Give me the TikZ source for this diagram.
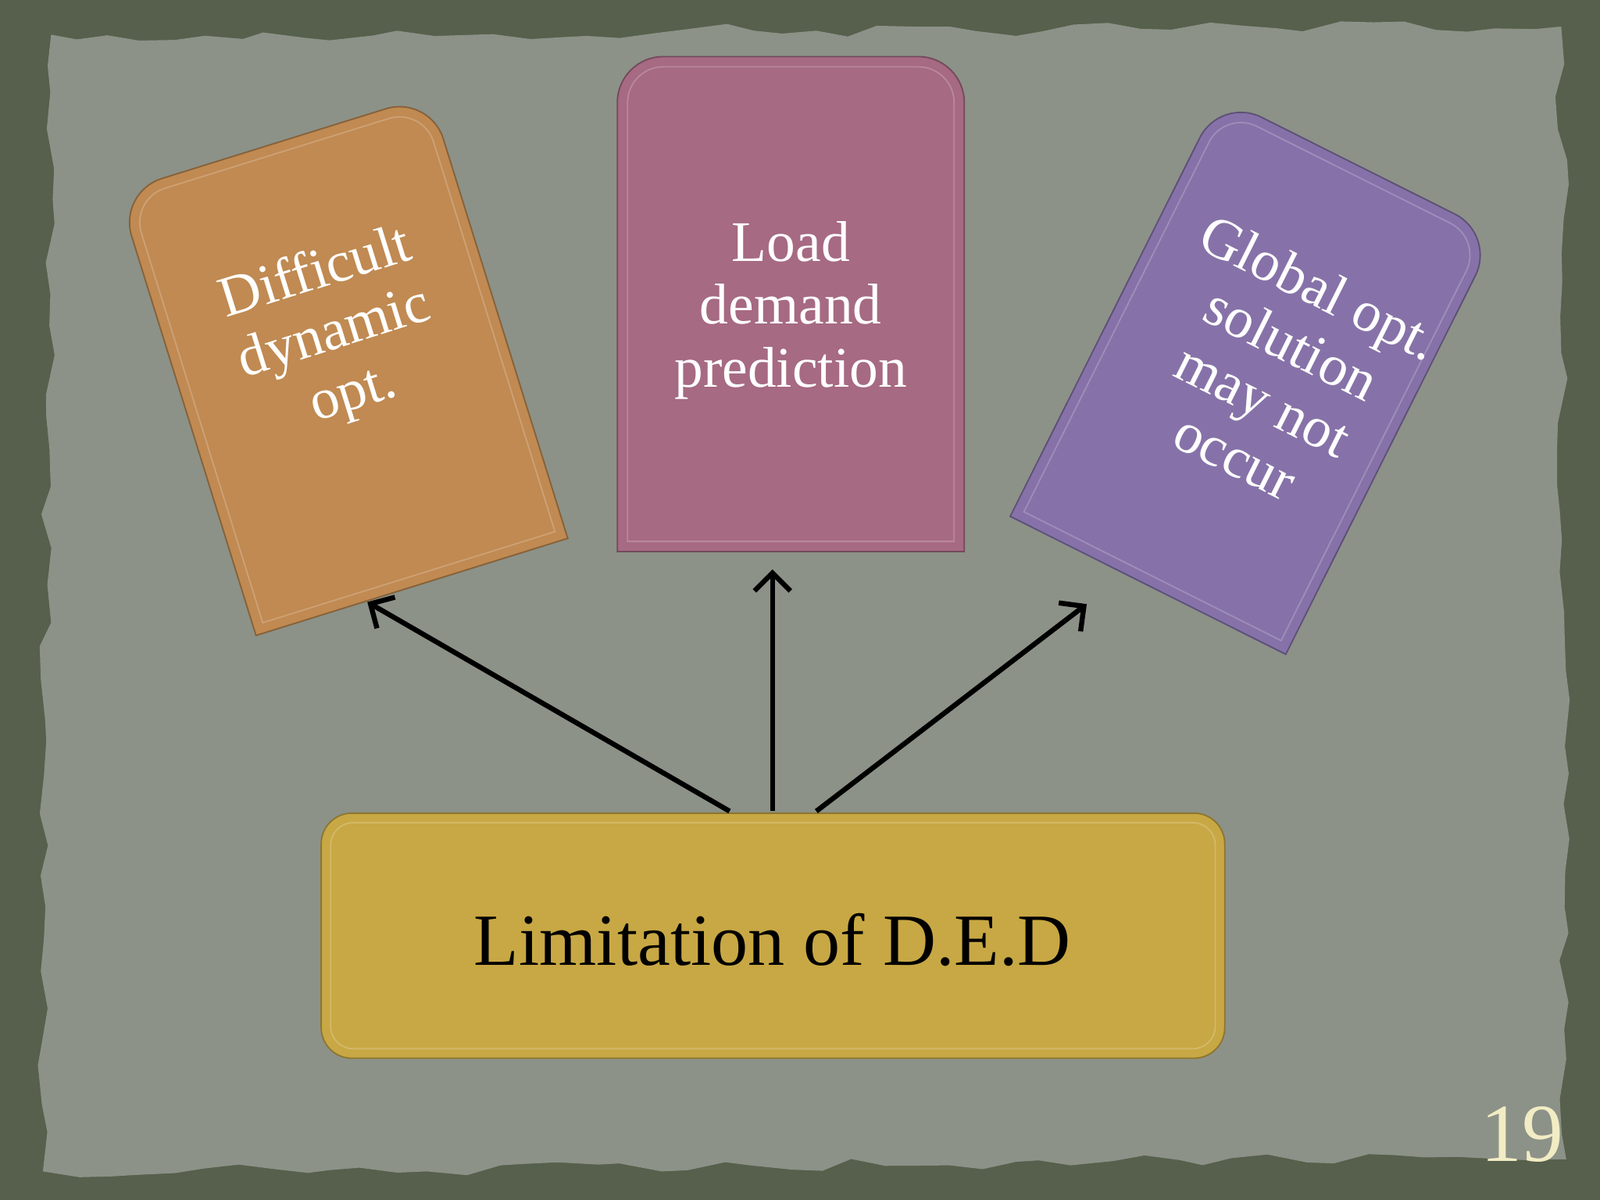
\documentclass[tikz,border=0pt]{standalone}
\usepackage{fontspec}
\setmainfont{Liberation Serif}
\usetikzlibrary{decorations.pathmorphing,arrows.meta}
\definecolor{frame}{HTML}{56604C}
\definecolor{paper}{HTML}{8C9288}
\definecolor{orangeT}{HTML}{C08A52}
\definecolor{pinkT}{HTML}{A66A82}
\definecolor{purpleT}{HTML}{8672A8}
\definecolor{goldT}{HTML}{C8A844}
\definecolor{numc}{HTML}{F2ECC4}
\tikzset{
  tabtext/.style={text=white,font=\fontsize{16}{17.5}\selectfont,align=center},
  arr/.style={line width=1.4pt,-{Straight Barb[length=5pt,width=10pt,line width=1.4pt]}},
}
\newcommand{\tablet}[6]{% cx cy angle w h color
 \begin{scope}[shift={(#1,#2)},rotate=#3]
  \fill[#6,draw=#6!70!black,line width=0.4pt] (-#4/2,-#5/2) -- (-#4/2,#5/2-45) arc[start angle=180,end angle=90,radius=45] -- (#4/2-45,#5/2) arc[start angle=90,end angle=0,radius=45] -- (#4/2,-#5/2) -- cycle;
  \draw[#6!80!white,line width=0.4pt] (-#4/2+10,-#5/2+10) -- (-#4/2+10,#5/2-45) arc[start angle=180,end angle=90,radius=35] -- (#4/2-45,#5/2-10) arc[start angle=90,end angle=0,radius=35] -- (#4/2-10,-#5/2+10) -- cycle;
 \end{scope}}
\begin{document}
\begin{tikzpicture}[x=0.01cm,y=0.01cm]
\useasboundingbox (0,0) rectangle (1568,1176);
\fill[frame] (0,0) rectangle (1568,1176);
\fill[paper,decorate,decoration={random steps,segment length=9,amplitude=2}] (42,28) -- (1535,40) -- (1530,1150) -- (50,1142) -- cycle;
\tablet{336}{818}{17.3}{320}{455}{orangeT}
\tablet{775}{878}{0}{340}{485}{pinkT}
\tablet{1228}{808}{-26.6}{302}{460}{purpleT}
\node[tabtext,rotate=17.3] (t1) at (328,848) {Difficult\\dynamic\\opt.};
\node[tabtext] (t2) at (775,872) {Load\\demand\\prediction};
\node[tabtext,rotate=-26.6] (t3) at (1252,812) {Global opt.\\solution\\may not\\occur};
\coordinate (a1) at (360,586);
\coordinate (a2) at (757,618);
\coordinate (a3) at (1065,584);
\node[fill=goldT,draw=goldT!70!black,line width=0.4pt,rounded corners=0.3cm,minimum width=8.85cm,minimum height=2.4cm] (box) at (757.5,259) {};
\draw[goldT!80!white,line width=0.4pt,rounded corners=0.22cm] ([shift={(10,10)}]box.south west) rectangle ([shift={(-10,-10)}]box.north east);
\node[font=\fontsize{20.5}{20}\selectfont] (lbl) at (757,255) {Limitation of D.E.D};
\coordinate (s1) at (715,381);
\coordinate (s2) at (757,381);
\coordinate (s3) at (800,381);
\draw[arr] (s1) -- (a1);
\draw[arr] (s2) -- (a2);
\draw[arr] (s3) -- (a3);
\node[text=numc,font=\fontsize{23}{23}\selectfont] (num) at (1492,64) {19};
\end{tikzpicture}
\end{document}
